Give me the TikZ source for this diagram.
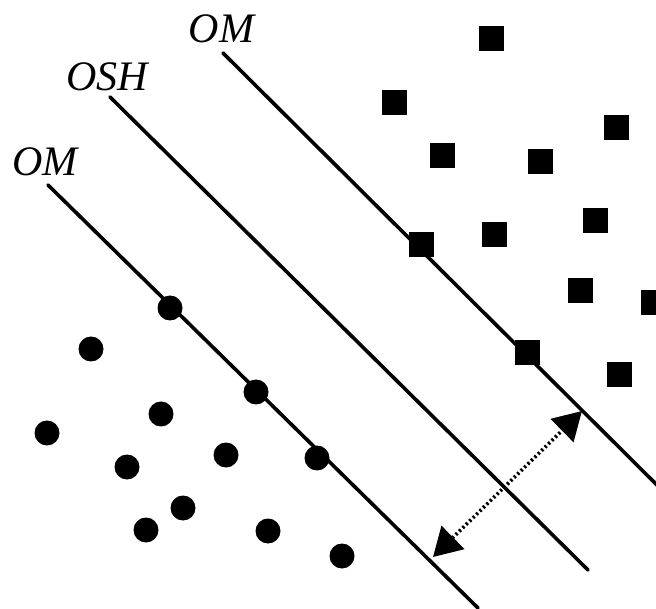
\documentclass[tikz,border=0pt]{standalone}
\usepackage{fontspec}
\setmainfont{Liberation Serif}
\usetikzlibrary{arrows.meta}
\begin{document}
\begin{tikzpicture}[x=1pt,y=-1pt,
  sqpt/.style={fill=black,minimum size=25pt,inner sep=0pt,outer sep=0pt},
  dotpt/.style={circle,fill=black,minimum size=25pt,inner sep=0pt,outer sep=0pt},
  hyper/.style={line width=3.6pt,line cap=round},
  lbl/.style={inner sep=0pt,font=\fontsize{42}{42}\selectfont\itshape},
  margin/.style={line width=3.6pt,dash pattern=on 2.2pt off 2.6pt,
    {Triangle[length=28pt,width=32pt]}-{Triangle[length=28pt,width=32pt]}}]
\useasboundingbox (0,0) rectangle (656,609);
% labels
\node[lbl] (l1) at (221.5,29) {OM};
\node[lbl] (l2) at (107.5,77) {OSH};
\node[lbl] (l3) at (45,161.5) {OM};
% lines
\coordinate (a1) at (223,53);  \coordinate (a2) at (660,488);
\coordinate (b1) at (110,97);  \coordinate (b2) at (588,570);
\coordinate (c1) at (48,185);  \coordinate (c2) at (478,608);
\draw[hyper] (a1) -- (a2);
\draw[hyper] (b1) -- (b2);
\draw[hyper] (c1) -- (c2);
% squares
\node[sqpt] (s1) at (491,38.5) {};
\node[sqpt] (s2) at (394,103) {};
\node[sqpt] (s3) at (616,128) {};
\node[sqpt] (s4) at (442,156) {};
\node[sqpt] (s5) at (540,162) {};
\node[sqpt] (s6) at (595,221) {};
\node[sqpt] (s7) at (494.5,235) {};
\node[sqpt] (s8) at (421.5,245) {};
\node[sqpt] (s9) at (580,291) {};
\node[sqpt] (s10) at (653,302.5) {};
\node[sqpt] (s11) at (527.5,352.5) {};
\node[sqpt] (s12) at (619,375) {};
% dots
\node[dotpt] (d1) at (170,308) {};
\node[dotpt] (d2) at (91,349) {};
\node[dotpt] (d3) at (256,392) {};
\node[dotpt] (d4) at (161,414) {};
\node[dotpt] (d5) at (47,433) {};
\node[dotpt] (d6) at (226,455) {};
\node[dotpt] (d7) at (317,458) {};
\node[dotpt] (d8) at (127,467) {};
\node[dotpt] (d9) at (183,508) {};
\node[dotpt] (d10) at (146,530) {};
\node[dotpt] (d11) at (268,531) {};
\node[dotpt] (d12) at (342,556) {};
% margin arrow
\coordinate (m1) at (433,557);
\coordinate (m2) at (582,411);
\draw[margin] (m1) -- (m2);
\end{tikzpicture}
\end{document}
